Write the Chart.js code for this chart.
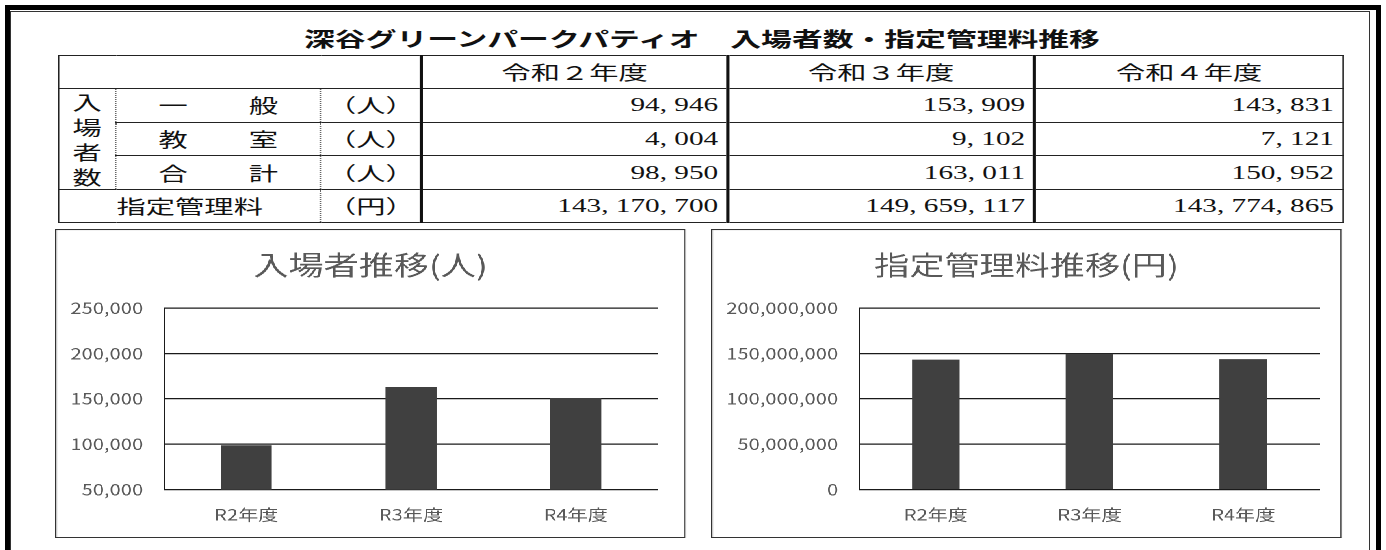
<!DOCTYPE html>
<html lang="ja">
<head>
<meta charset="utf-8">
<title>深谷グリーンパークパティオ　入場者数・指定管理料推移</title>
<script src="https://cdn.jsdelivr.net/npm/chart.js@4.4.1/dist/chart.umd.min.js"></script>
<style>
  html, body { margin: 0; padding: 0; background: #fff; }
  body { position: relative; width: 1386px; height: 550px; overflow: hidden; }
  .frame-outer { position: absolute; left: 5px; top: 5px; width: 1376px; height: 620px; border: 5px solid #000; box-sizing: border-box; }
  .frame-inner { position: absolute; left: 10px; top: 11px; width: 1360px; height: 620px; border: 1px solid #333; box-sizing: border-box; }
  .stretch { position: absolute; transform-origin: 0 0; }
  #mainTitle { top: 26px; height: 25px; line-height: 25px; text-align: center; white-space: nowrap;
    font-family: "Noto Sans CJK JP", sans-serif; font-size: 20px; font-weight: 700; color: #111; }
  #dataTable { top: 55px; border-collapse: collapse; table-layout: fixed;
    font-family: "Noto Sans CJK JP", sans-serif; font-size: 19px; color: #111; }
  #dataTable td { height: 32px; padding: 0; border: 1px solid #222; line-height: 22px; white-space: nowrap; overflow: hidden; }
  #dataTable td.year { text-align: center; border-left: 2px solid #111; }
  #dataTable td.num { text-align: right; font-family: "Liberation Serif", serif; font-size: 19px; border-left: 2px solid #111; }
  #dataTable td.num .c { display: inline-block; width: 0.5em; text-align: left; }
  #dataTable td.vlabel { text-align: center; line-height: 25px; border-right: 1px dotted #666; }
  #dataTable td.name { border-left: 1px dotted #666; border-right: 1px dotted #666; }
  #dataTable td.unit { text-align: center; border-left: 1px dotted #666; }
  #dataTable td.blank { border-right: 2px solid #111; }
  #dataTable td.fee-name { text-align: center; border-left: 1px solid #222; }
  .spread { display: flex; justify-content: space-between; }
  .chart-panel { top: 229px; height: 309px; border: 1px solid #333; box-sizing: border-box; background: #fff; }
  .chart-panel .chart-wrap { position: relative; width: 100%; height: 100%; }
</style>
</head>
<body>
<div class="frame-outer"></div>
<div class="frame-inner"></div>

<div id="mainTitle" class="stretch">深谷グリーンパークパティオ　入場者数・指定管理料推移</div>
<table id="dataTable" class="stretch"></table>

<div id="visitorPanel" class="chart-panel stretch"><div class="chart-wrap"><canvas id="visitorChart"></canvas></div></div>
<div id="feePanel" class="chart-panel stretch"><div class="chart-wrap"><canvas id="feeChart"></canvas></div></div>

<script>
// 年度
const fiscalYears = ['令和２年度', '令和３年度', '令和４年度'];
const chartLabels = ['R2年度', 'R3年度', 'R4年度'];

// 入場者数（人）
const generalVisitors = [94946, 153909, 143831];
const classVisitors = [4004, 9102, 7121];
const totalVisitors = [98950, 163011, 150952];

// 指定管理料（円）
const managementFees = [143170700, 149659117, 143774865];

// 目盛り
const visitorTicks = [50000, 100000, 150000, 200000, 250000];
const feeTicks = [0, 50000000, 100000000, 150000000, 200000000];

// 元画像は横に引き伸ばされているので、同じ比率で横に伸ばす
const TABLE_STRETCH = 1.54;
const CHART_STRETCH = 1.3;

function placeStretched(el, left, width, stretch) {
  el.style.left = left + 'px';
  el.style.width = (width / stretch) + 'px';
  el.style.transform = 'scaleX(' + stretch + ')';
}

function fmt(v) {
  return v.toLocaleString('en-US');
}

// 表の数値（カンマは明朝風に半角幅）
function fmtCell(v) {
  return fmt(v).replace(/,/g, '<span class="c">,</span>');
}

// タイトル
placeStretched(document.getElementById('mainTitle'), 302, 800, TABLE_STRETCH);

// 表を作成
const table = document.getElementById('dataTable');
placeStretched(table, 58, 1284, TABLE_STRETCH);
const colWidths = [57, 205, 101, 306, 307, 308];
const spreadPad = 42 / TABLE_STRETCH;
const numPad = 8 / TABLE_STRETCH;

const rows = [
  { name: ['一', '般'], unit: '（人）', values: generalVisitors },
  { name: ['教', '室'], unit: '（人）', values: classVisitors },
  { name: ['合', '計'], unit: '（人）', values: totalVisitors }
];

function numCells(values) {
  return values.map(v => '<td class="num" style="padding-right:' + numPad + 'px">' + fmtCell(v) + '</td>').join('');
}

let html = '<colgroup>' + colWidths.map(w => '<col style="width:' + (w / TABLE_STRETCH) + 'px">').join('') + '</colgroup>';
html += '<tr><td class="blank" colspan="3"></td>' +
  fiscalYears.map(y => '<td class="year">' + y + '</td>').join('') + '</tr>';
rows.forEach((row, i) => {
  html += '<tr>';
  if (i === 0) {
    html += '<td class="vlabel" rowspan="3">入<br>場<br>者<br>数</td>';
  }
  html += '<td class="name"><div class="spread" style="padding:0 ' + spreadPad + 'px"><span>' +
    row.name[0] + '</span><span>' + row.name[1] + '</span></div></td>';
  html += '<td class="unit">' + row.unit + '</td>';
  html += numCells(row.values);
  html += '</tr>';
});
html += '<tr><td class="name fee-name" colspan="2">指定管理料</td><td class="unit">（円）</td>' +
  numCells(managementFees) + '</tr>';
table.innerHTML = html;

// グラフ
Chart.defaults.font.family = '"Noto Sans CJK JP", sans-serif';

placeStretched(document.getElementById('visitorPanel'), 55, 631, CHART_STRETCH);
placeStretched(document.getElementById('feePanel'), 711, 631, CHART_STRETCH);

function createBarChart(canvasId, titleText, values, tickValues, axisWidth, rightGap) {
  const ctx = document.getElementById(canvasId).getContext('2d');
  return new Chart(ctx, {
    type: 'bar',
    data: {
      labels: chartLabels,
      datasets: [{
        data: values,
        backgroundColor: '#404040',
        barPercentage: 0.31,
        categoryPercentage: 1
      }]
    },
    options: {
      responsive: true,
      maintainAspectRatio: false,
      animation: false,
      devicePixelRatio: 2,
      layout: { padding: { left: 0, right: 0, top: 0, bottom: 13 } },
      plugins: {
        legend: { display: false },
        tooltip: { enabled: false },
        title: {
          display: true,
          text: titleText,
          color: '#595959',
          font: { size: 27, weight: 'normal' },
          padding: { top: 19, bottom: 26.6 }
        }
      },
      scales: {
        x: {
          afterFit: scale => { scale.height = 34.3; },
          grid: { display: false, drawTicks: false },
          border: { display: false },
          ticks: { color: '#595959', font: { size: 15.5 }, padding: 15.7 }
        },
        y: {
          min: tickValues[0],
          max: tickValues[tickValues.length - 1],
          afterBuildTicks: scale => { scale.ticks = tickValues.map(v => ({ value: v })); },
          afterFit: scale => { scale.width = axisWidth; },
          grid: { color: '#1a1a1a', lineWidth: 1.3, drawTicks: false },
          border: { display: true, color: '#1a1a1a', width: 1 },
          ticks: {
            color: '#595959',
            font: { size: 15.5 },
            padding: 16,
            callback: v => fmt(v)
          }
        },
        // 右側の余白用（タイトルを中央に保つため）
        gap: {
          position: 'right',
          afterFit: scale => { scale.width = rightGap; },
          grid: { display: false, drawTicks: false },
          border: { display: false },
          ticks: { display: false }
        }
      }
    }
  });
}

createBarChart('visitorChart', '入場者推移(人)', totalVisitors, visitorTicks, 82.8, 20.5);
createBarChart('feeChart', '指定管理料推移(円)', managementFees, feeTicks, 112.8, 15.9);
</script>
</body>
</html>
